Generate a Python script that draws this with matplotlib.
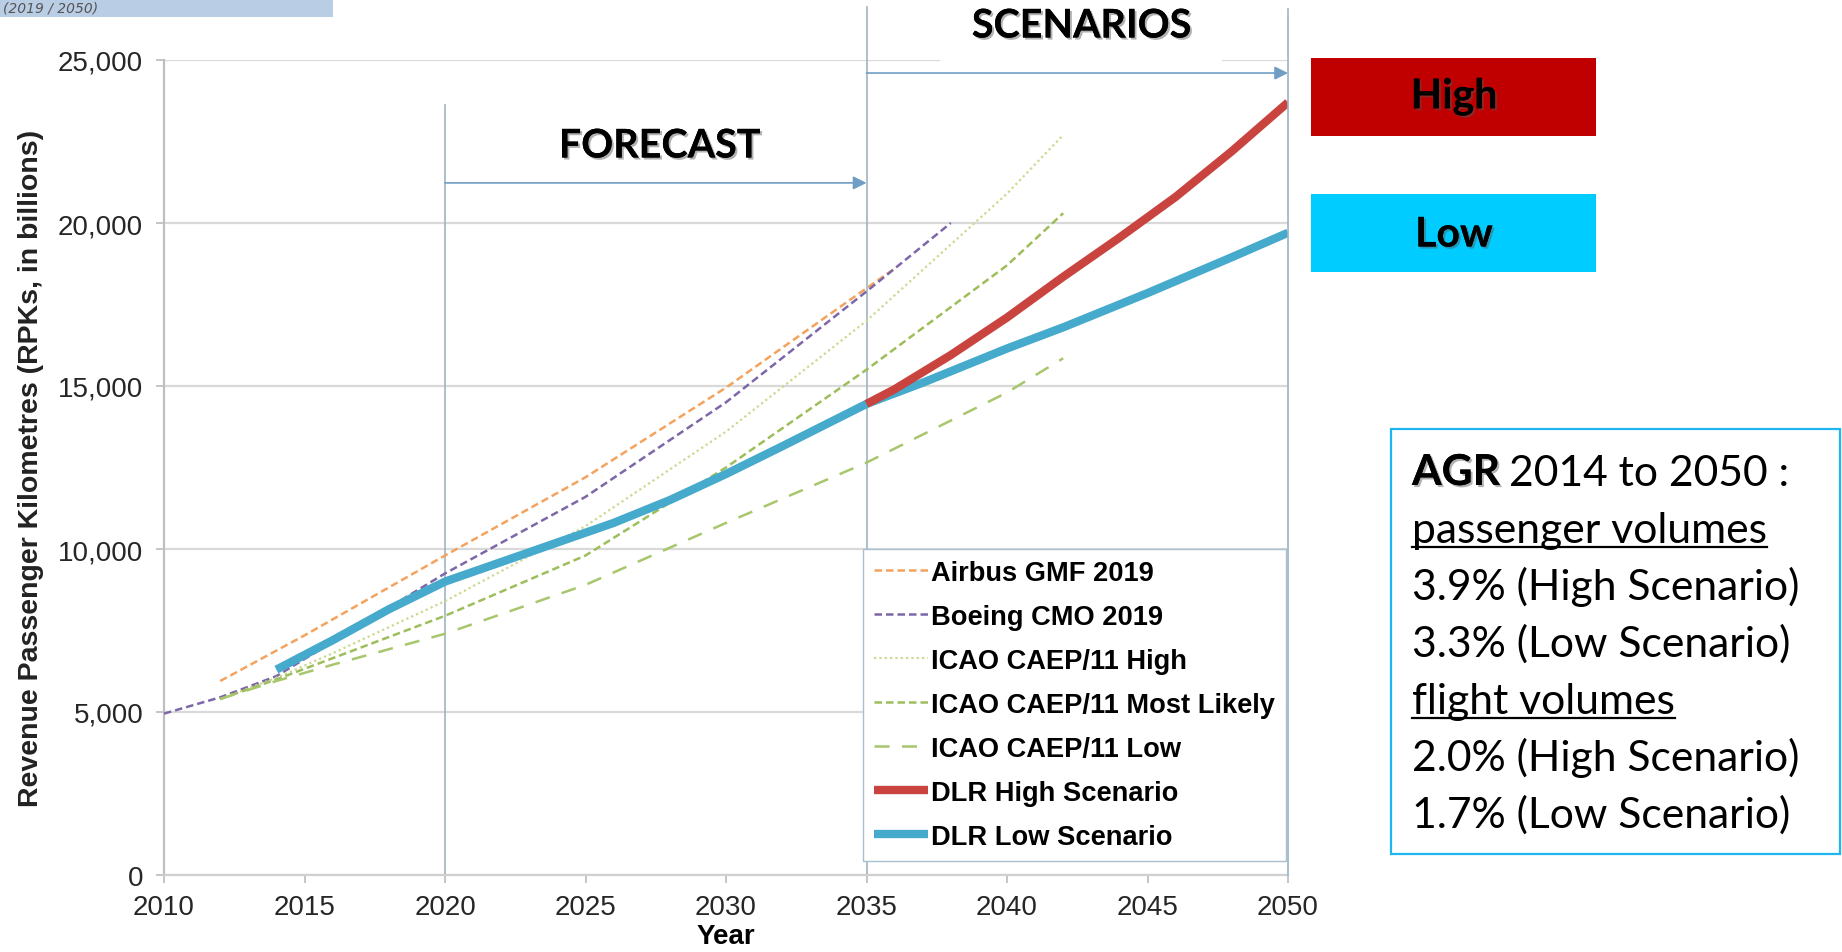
import matplotlib
matplotlib.use('Agg')
import matplotlib.pyplot as plt
import matplotlib.patheffects as pe
from matplotlib.patches import Rectangle
from matplotlib.lines import Line2D

# values (RPK, billions)
airbus_years = [2012, 2015, 2020, 2025, 2030, 2035, 2036]
airbus_rpk = [5950, 7350, 9800, 12200, 14950, 18000, 18600]

boeing_years = [2010, 2012, 2014, 2016, 2018, 2020, 2025, 2030, 2035, 2038]
boeing_rpk = [4950, 5450, 6100, 7150, 8200, 9250, 11600, 14500, 17900, 20000]

icao_years = [2012, 2014, 2016, 2020, 2025, 2030, 2035, 2040, 2042]
icao_high = [5400, 6050, 6800, 8400, 10700, 13600, 17000, 20900, 22700]
icao_likely = [5400, 6000, 6650, 7950, 9800, 12500, 15500, 18700, 20300]
icao_low = [5400, 5950, 6450, 7400, 8900, 10800, 12650, 14800, 15850]

dlr_low_years = [2014, 2016, 2018, 2020, 2022, 2024, 2026, 2028, 2030, 2032,
                 2035, 2037, 2040, 2042, 2045, 2048, 2050]
dlr_low = [6300, 7200, 8150, 9000, 9600, 10200, 10800, 11500, 12300, 13150,
           14450, 15100, 16150, 16800, 17850, 18950, 19700]

dlr_high_years = [2035, 2036, 2038, 2040, 2042, 2044, 2046, 2048, 2050]
dlr_high = [14450, 14900, 15950, 17100, 18350, 19550, 20800, 22200, 23700]

x_ticks = list(range(2010, 2051, 5))
y_ticks = list(range(0, 25001, 5000))

agr_lines = ["passenger volumes", "3.9% (High Scenario)", "3.3% (Low Scenario)",
             "flight volumes", "2.0% (High Scenario)", "1.7% (Low Scenario)"]
underlined = ["passenger volumes", "flight volumes"]

W, H = 1842, 953


def fx(px):
    return px / W


def fy(py):
    return 1 - py / H


fig = plt.figure(figsize=(W / 100, H / 100), dpi=100)
ax = fig.add_axes([fx(164), fy(876), 1124 / W, 815 / H])

shadow = [pe.withSimplePatchShadow(offset=(1.5, -1.5), shadow_rgbFace='#555555', alpha=0.45), pe.Normal()]

# forecast / scenario lines
ax.plot(airbus_years, airbus_rpk, color='#F4A35E', lw=1.8, dashes=(3, 1.6), label='Airbus GMF 2019', zorder=3)
ax.plot(boeing_years, boeing_rpk, color='#7E67A8', lw=1.8, dashes=(3, 1.6), label='Boeing CMO 2019', zorder=3)
ax.plot(icao_years, icao_high, color='#CBD98F', lw=1.6, dashes=(1, 1.4), label='ICAO CAEP/11 High', zorder=3)
ax.plot(icao_years, icao_likely, color='#9DBE5A', lw=1.8, dashes=(3, 1.6), label='ICAO CAEP/11 Most Likely', zorder=3)
ax.plot(icao_years, icao_low, color='#A8C66C', lw=1.8, dashes=(6, 5), label='ICAO CAEP/11 Low', zorder=3)
ax.plot(dlr_high_years, dlr_high, color='#C9443F', lw=6, solid_capstyle='butt', label='DLR High Scenario', zorder=5)
ax.plot(dlr_low_years, dlr_low, color='#45AACB', lw=6, solid_capstyle='butt', label='DLR Low Scenario', zorder=4)

ax.set_xlim(2010, 2050)
ax.set_ylim(0, 25000)
ax.set_xticks(x_ticks)
ax.set_yticks(y_ticks)
ax.set_yticklabels([f'{v:,}' for v in y_ticks])
ax.tick_params(labelsize=20, colors='#BBBBBB', labelcolor='#262626', length=6, width=1.2, pad=8)
ax.tick_params(axis='y', pad=9)
for lab in ax.get_xticklabels() + ax.get_yticklabels():
    lab.set_fontfamily('Liberation Sans')

ax.yaxis.grid(True, color='#D9D9D9', lw=1.6, zorder=0)
ax.set_axisbelow(True)
for s in ['top', 'right']:
    ax.spines[s].set_visible(False)
ax.spines['left'].set_color('#BFBFBF')
ax.spines['left'].set_linewidth(1.6)
ax.spines['bottom'].set_color('#D0D0D0')
ax.spines['bottom'].set_linewidth(1.6)

ax.set_xlabel('Year', fontsize=20, fontweight='bold', family='Liberation Sans', labelpad=2)
ax.set_ylabel('Revenue Passenger Kilometres (RPKs, in billions)', fontsize=20.5,
              fontweight='bold', family='Liberation Sans', labelpad=10, color='#222222')

# period separators
vcol = '#9DB4C4'
ax.axvline(2020, ymax=(876 - 106) / 815, color=vcol, lw=1.2, zorder=2)
ax.axvline(2035, ymax=(876 - 8) / 815, color=vcol, lw=1.2, zorder=2, clip_on=False)
ax.axvline(2050, ymax=(876 - 10) / 815, color=vcol, lw=1.2, zorder=7, clip_on=False)

ax.annotate('', xy=(2035, 21230), xytext=(2020, 21230),
            arrowprops=dict(arrowstyle='-|>', color='#6F9DC4', lw=1.2, mutation_scale=20, shrinkA=0, shrinkB=0))
ax.annotate('', xy=(2050, 24600), xytext=(2035, 24600), annotation_clip=False,
            arrowprops=dict(arrowstyle='-|>', color='#6F9DC4', lw=1.2, mutation_scale=20, shrinkA=0, shrinkB=0))

leg = ax.legend(loc='upper left', bbox_to_anchor=(0.622, 0.40), borderaxespad=0,
                prop={'family': 'Liberation Sans', 'weight': 'bold', 'size': 19.6},
                handlelength=2.0, handletextpad=0.1, labelspacing=0.66, borderpad=0.4,
                frameon=True, fancybox=False, framealpha=1, edgecolor='#A9C0CF')
leg.get_frame().set_linewidth(1.0)
leg.set_zorder(6)

# header texts
fig.patches.append(Rectangle((fx(940), fy(64)), 282 / W, 64 / H, transform=fig.transFigure,
                             facecolor='white', edgecolor='none', zorder=2))
fig.text(fx(1082), fy(27), 'SCENARIOS', family='Lato', weight='bold', fontsize=28.5,
         ha='center', va='center', zorder=3, path_effects=shadow)
fig.text(fx(660), fy(147), 'FORECAST', family='Lato', weight='bold', fontsize=28.5,
         ha='center', va='center', zorder=3, path_effects=shadow)

# cropped caption bar top-left
fig.patches.append(Rectangle((0, fy(18)), fx(333), 18 / H, transform=fig.transFigure,
                             facecolor='#B9CDE5', edgecolor='none', zorder=2))
fig.text(fx(3), fy(9), '(2019 / 2050)', ha='left', va='center', style='italic',
         fontsize=10, color='#555555', zorder=3)

# scenario colour boxes
fig.patches.append(Rectangle((fx(1311), fy(137)), 285 / W, 78 / H, transform=fig.transFigure,
                             facecolor='#C00000', edgecolor='none'))
fig.patches.append(Rectangle((fx(1311), fy(273)), 285 / W, 78 / H, transform=fig.transFigure,
                             facecolor='#00CCFF', edgecolor='none'))
fig.text(fx(1454), fy(98), 'High', family='Lato', weight='bold', fontsize=29.5,
         ha='center', va='center', path_effects=shadow)
fig.text(fx(1454), fy(236), 'Low', family='Lato', weight='bold', fontsize=29.5,
         ha='center', va='center', path_effects=shadow)

# AGR box
fig.patches.append(Rectangle((fx(1391), fy(855)), 449 / W, 425 / H, transform=fig.transFigure,
                             facecolor='white', edgecolor='#1FB5EE', lw=1.6))
base0 = 486
step = 57
t_agr = fig.text(fx(1412), fy(base0), 'AGR', family='Lato', weight='bold', fontsize=30.7,
                 va='baseline', path_effects=shadow)
fig.canvas.draw()
r = fig.canvas.get_renderer()
bb = t_agr.get_window_extent(r)
fig.text(bb.x1 / W + fx(9), fy(base0), '2014 to 2050 :', family='Lato', fontsize=30.7, va='baseline')

texts = []
for i, line in enumerate(agr_lines):
    t = fig.text(fx(1412), fy(base0 + step * (i + 1)), line, family='Lato', fontsize=30.7, va='baseline')
    texts.append(t)
fig.canvas.draw()
for t, line in zip(texts, agr_lines):
    if line in underlined:
        bb = t.get_window_extent(r)
        yb = fy(base0 + step * (agr_lines.index(line) + 1) + 5)
        fig.add_artist(Line2D([bb.x0 / W, bb.x1 / W], [yb, yb], transform=fig.transFigure,
                              color='black', lw=1.6))

fig.savefig('out.png', dpi=100)
